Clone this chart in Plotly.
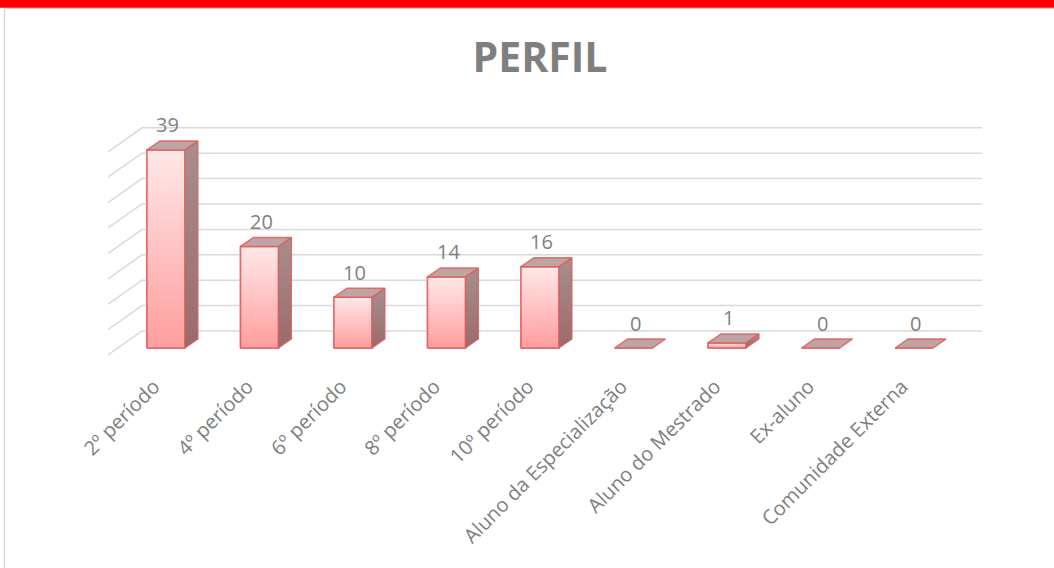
import plotly.graph_objects as go

# ---- data ----
categories = ["2º período", "4º período", "6º período", "8º período", "10º período",
              "Aluno da Especialização", "Aluno do Mestrado", "Ex-aluno", "Comunidade Externa"]
values = [39, 20, 10, 14, 16, 0, 1, 0, 0]
grid_values = [0, 5, 10, 15, 20, 25, 30, 35, 40]
title_text = "PERFIL"

# ---- geometry / style (pseudo-3D look) ----
W, H = 1054, 568
PX_PER_CAT = 93.5
PX_PER_UNIT = 5.08
HALF_W = 0.203            # half bar width (category units)
BAR_DX = 13 / PX_PER_CAT  # bar depth offset in x
BAR_DY = 9 / PX_PER_UNIT  # bar depth offset in y
WALL_X_FRONT = -0.62
WALL_X_BACK = WALL_X_FRONT + 34 / PX_PER_CAT
WALL_DY_FRONT = -7 / PX_PER_UNIT
WALL_DY_BACK = 17 / PX_PER_UNIT
X_MAX = 8.727
Y_MIN, Y_MAX = -22 / PX_PER_UNIT, 248 / PX_PER_UNIT
LABEL_SHIFT = -12 / PX_PER_CAT

TEXT = "#7F7F7F"
GRID = "#D9D9D9"
EDGE = "rgba(224,90,90,0.85)"
FONT = "Open Sans"

fig = go.Figure()

# back-wall gridlines
for v in grid_values:
    fig.add_trace(go.Scatter(
        x=[WALL_X_FRONT, WALL_X_BACK, X_MAX],
        y=[v + WALL_DY_FRONT, v + WALL_DY_BACK, v + WALL_DY_BACK],
        mode="lines", line=dict(color=GRID, width=1.5),
        hoverinfo="skip", showlegend=False))

# front faces as bars
xs = list(range(len(categories)))
fig.add_trace(go.Bar(
    x=xs, y=values, width=2 * HALF_W,
    marker=dict(color="#FFC2C2", line=dict(color=EDGE, width=1.5)),
    showlegend=False, hoverinfo="skip"))

for i, v in enumerate(values):
    xl, xr = i - HALF_W, i + HALF_W
    if v > 0:
        # gradient front face overlay
        fig.add_trace(go.Scatter(
            x=[xl, xr, xr, xl, xl], y=[0, 0, v, v, 0],
            mode="lines", fill="toself",
            fillgradient=dict(type="vertical",
                              colorscale=[[0, "#FF9D9D"], [1, "#FFE8E8"]]),
            line=dict(color=EDGE, width=1.5),
            hoverinfo="skip", showlegend=False))
        # side face
        fig.add_trace(go.Scatter(
            x=[xr, xr + BAR_DX, xr + BAR_DX, xr, xr],
            y=[0, BAR_DY, v + BAR_DY, v, 0],
            mode="lines", fill="toself",
            fillgradient=dict(type="vertical",
                              colorscale=[[0, "#9C6A6A"], [1, "#A88E8E"]]),
            line=dict(color=EDGE, width=1.2),
            hoverinfo="skip", showlegend=False))
    # top face
    fig.add_trace(go.Scatter(
        x=[xl, xl + BAR_DX, xr + BAR_DX, xr, xl],
        y=[v, v + BAR_DY, v + BAR_DY, v, v],
        mode="lines", fill="toself", fillcolor="#BFA4A4",
        line=dict(color=EDGE, width=1.5),
        hoverinfo="skip", showlegend=False))

# data labels
for i, v in enumerate(values):
    fig.add_annotation(x=i + 0.02, y=v + BAR_DY, text=str(v), showarrow=False,
                       yanchor="middle", yshift=16,
                       font=dict(family=FONT, size=20, color=TEXT))

# frame: red band and thin grey border
def px_to_paper_x(px):
    return (px - 108) / (X_MAX - WALL_X_FRONT) / PX_PER_CAT

def py_to_paper_y(py):
    return (370 - py) / 270

fig.add_shape(type="rect", xref="paper", yref="paper",
              x0=px_to_paper_x(-5), x1=px_to_paper_x(W + 5),
              y0=py_to_paper_y(7.8), y1=py_to_paper_y(-5),
              fillcolor="#FF0000", line=dict(width=0), layer="above")
fig.add_shape(type="line", xref="paper", yref="paper",
              x0=px_to_paper_x(4.5), x1=px_to_paper_x(W + 5),
              y0=py_to_paper_y(8.5), y1=py_to_paper_y(8.5),
              line=dict(color="#D0D0D0", width=1.2))
fig.add_shape(type="line", xref="paper", yref="paper",
              x0=px_to_paper_x(4.5), x1=px_to_paper_x(4.5),
              y0=py_to_paper_y(8.5), y1=py_to_paper_y(H + 5),
              line=dict(color="#D0D0D0", width=1.2))

fig.update_layout(
    width=W, height=H,
    margin=dict(l=108, r=W - 982, t=100, b=H - 370),
    paper_bgcolor="white", plot_bgcolor="white",
    title=dict(text=title_text, x=540 / W, xref="container", xanchor="center",
               y=1 - 58 / H, yref="container", yanchor="middle",
               font=dict(family=FONT, size=41, color=TEXT, weight="bold")),
    xaxis=dict(range=[WALL_X_FRONT, X_MAX], tickmode="array",
               tickvals=[x + LABEL_SHIFT for x in xs],
               ticktext=categories, tickangle=-45, showgrid=False,
               zeroline=False, showline=False, ticks="",
               tickfont=dict(family=FONT, size=20, color=TEXT)),
    yaxis=dict(range=[Y_MIN, Y_MAX], visible=False, showgrid=False, zeroline=False),
    showlegend=False,
)

fig.write_html("out.html",
               config={"displayModeBar": False},
               post_script="document.body.style.margin='0';document.body.style.padding='0';")
